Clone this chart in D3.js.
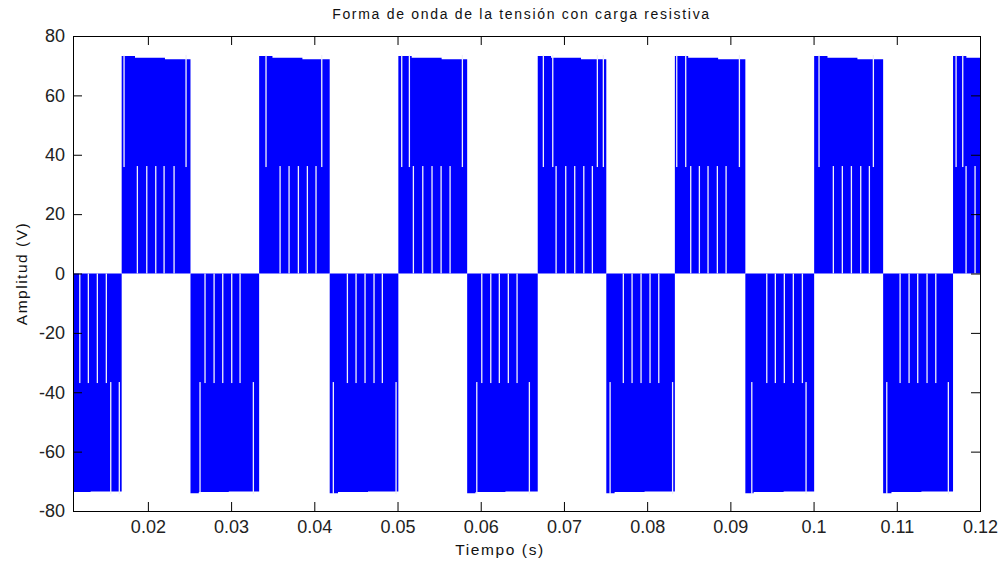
<!DOCTYPE html>
<html>
<head>
<meta charset="utf-8">
<script src="https://cdn.jsdelivr.net/npm/d3@7"></script>
<style>
  body { margin: 0; background: #fff; }
  text { font-family: "Liberation Sans", Arial, sans-serif; }
</style>
</head>
<body>
<div id="chart"></div>
<script>
// 3-level PWM voltage, drawn as filled switching bands (time in s, amplitude in V)

const title = "Forma de onda de la tensión con carga resistiva";
const xLabel = "Tiempo (s)";
const yLabel = "Amplitud (V)";

const xTicks = [0.02, 0.03, 0.04, 0.05, 0.06, 0.07, 0.08, 0.09, 0.1, 0.11, 0.12];
const yTicks = [-80, -60, -40, -20, 0, 20, 40, 60, 80];

// half-cycle boundaries (first and last run past the axes)
const blockEdges = [0.00852, 0.01685, 0.02512, 0.03337, 0.04185, 0.05010, 0.05837,
  0.06685, 0.07509, 0.08333, 0.09180, 0.10007, 0.10836, 0.11676, 0.12500];
const blockSign = [-1, 1, -1, 1, -1, 1, -1, 1, -1, 1, -1, 1, -1, 1];

// inner level (V) and outer level steps [offset from block start (s), V]
const innerLevel = { pos: 36.2, neg: -36.9 };
const posPeakSteps = [[0, 73.3], [0.0016, 72.7], [0.0052, 72.2]];
const negPeakSteps = [[0, -74.0], [0.0010, -73.6], [0.0046, -73.4]];

// instants where the signal rests (white gaps) in the 0..inner band
const innerGaps = [
  [0.01181, 0.01284, 0.01392, 0.01500],
  [0.01873, 0.01986, 0.02094, 0.02194, 0.02314],
  [0.02686, 0.02795, 0.02899, 0.03007, 0.03107],
  [0.03588, 0.03696, 0.03808, 0.03916, 0.04020],
  [0.04397, 0.04501, 0.04609, 0.04717, 0.04817],
  [0.05190, 0.05303, 0.05414, 0.05523, 0.05631],
  [0.06012, 0.06120, 0.06223, 0.06331, 0.06436],
  [0.06905, 0.07021, 0.07129, 0.07238, 0.07341],
  [0.07713, 0.07818, 0.07926, 0.08034, 0.08139],
  [0.08523, 0.08627, 0.08731, 0.08843, 0.08948],
  [0.09437, 0.09540, 0.09648, 0.09756, 0.09865],
  [0.10237, 0.10345, 0.10454, 0.10566, 0.10670],
  [0.11039, 0.11147, 0.11251, 0.11363, 0.11468],
  [0.11832, 0.11940]
];

// and in the inner..peak band
const outerGaps = [
  [0.01553, 0.01656],
  [0.01713, 0.02458],
  [0.02626, 0.03267],
  [0.03419, 0.04089],
  [0.04228, 0.04982],
  [0.05050, 0.05142, 0.05779],
  [0.05952, 0.06584],
  [0.06752, 0.06865, 0.07401, 0.07473],
  [0.07554, 0.08305],
  [0.08355, 0.08463, 0.09108],
  [0.09257, 0.09909],
  [0.10065, 0.10718],
  [0.10879, 0.11619],
  [0.11712, 0.11792]
];

const margin = { top: 36, right: 20, bottom: 51, left: 73 };
const width = 1000 - margin.left - margin.right;
const height = 562 - margin.top - margin.bottom;
const blue = "#0000ff";
const gapColor = "#f0f0f8";

const svg = d3.select("#chart")
  .append("svg")
  .attr("width", 1000)
  .attr("height", 562);

const g = svg.append("g")
  .attr("transform", `translate(${margin.left},${margin.top})`);

const x = d3.scaleLinear().domain([0.011, 0.12]).range([0, width]);
const y = d3.scaleLinear().domain([-80, 80]).range([height, 0]);

g.append("clipPath").attr("id", "plot-clip")
  .append("rect").attr("width", width).attr("height", height);

const plot = g.append("g").attr("clip-path", "url(#plot-clip)");

// whole half-cycle as one stepped area from 0 up to the peak level
const band = d3.area()
  .curve(d3.curveStepAfter)
  .x(d => x(d[0]))
  .y0(y(0))
  .y1(d => y(d[1]));

blockSign.forEach((s, i) => {
  const t0 = blockEdges[i], t1 = blockEdges[i + 1];
  const mid = s > 0 ? innerLevel.pos : innerLevel.neg;
  const steps = s > 0 ? posPeakSteps : negPeakSteps;
  const pts = steps.map(st => [t0 + st[0], st[1]]);
  pts.push([t1, steps[steps.length - 1][1]]);

  plot.append("path")
    .datum(pts)
    .attr("d", band)
    .attr("fill", blue);

  const peak = s > 0 ? d3.max(steps, d => d[1]) : d3.min(steps, d => d[1]);

  plot.selectAll(null)
    .data(innerGaps[i])
    .enter()
    .append("rect")
    .attr("x", d => x(d) - 0.6)
    .attr("width", 1.3)
    .attr("y", Math.min(y(0), y(mid)))
    .attr("height", Math.abs(y(mid) - y(0)))
    .attr("fill", gapColor);

  plot.selectAll(null)
    .data(outerGaps[i])
    .enter()
    .append("rect")
    .attr("x", d => x(d) - 0.6)
    .attr("width", 1.3)
    .attr("y", Math.min(y(mid), y(peak)) - 1)
    .attr("height", Math.abs(y(peak) - y(mid)) + 2)
    .attr("fill", gapColor);
});

// axes with inward ticks, MATLAB style box
const fmt = d => String(+d.toFixed(2));

g.append("g")
  .attr("transform", `translate(0,${height})`)
  .call(d3.axisBottom(x).tickValues(xTicks).tickFormat(fmt).tickSizeInner(-9).tickSizeOuter(0).tickPadding(9));

g.append("g")
  .call(d3.axisLeft(y).tickValues(yTicks).tickFormat(d => String(d)).tickSizeInner(-9).tickSizeOuter(0).tickPadding(8));

g.append("g")
  .call(d3.axisTop(x).tickValues(xTicks).tickFormat("").tickSizeInner(-9).tickSizeOuter(0));

g.append("g")
  .attr("transform", `translate(${width},0)`)
  .call(d3.axisRight(y).tickValues(yTicks).tickFormat("").tickSizeInner(-9).tickSizeOuter(0));

g.selectAll(".domain").remove();
g.selectAll(".tick line").attr("stroke", "#000");
g.selectAll(".tick text")
  .attr("fill", "#222")
  .style("font-size", "18px");

g.append("rect")
  .attr("x", 0.5).attr("y", 0.5)
  .attr("width", width).attr("height", height)
  .attr("fill", "none")
  .attr("stroke", "#000");

svg.append("text")
  .attr("x", margin.left + width / 2 - 5)
  .attr("y", 19)
  .attr("text-anchor", "middle")
  .style("font-size", "14px")
  .style("letter-spacing", "1.7px")
  .attr("fill", "#111")
  .text(title);

svg.append("text")
  .attr("x", 500)
  .attr("y", 555)
  .attr("text-anchor", "middle")
  .style("font-size", "15.5px")
  .style("letter-spacing", "1.6px")
  .attr("fill", "#111")
  .text(xLabel);

svg.append("text")
  .attr("transform", `translate(27,${margin.top + height / 2}) rotate(-90)`)
  .attr("text-anchor", "middle")
  .style("font-size", "15.5px")
  .style("letter-spacing", "1.5px")
  .attr("fill", "#111")
  .text(yLabel);
</script>
</body>
</html>
